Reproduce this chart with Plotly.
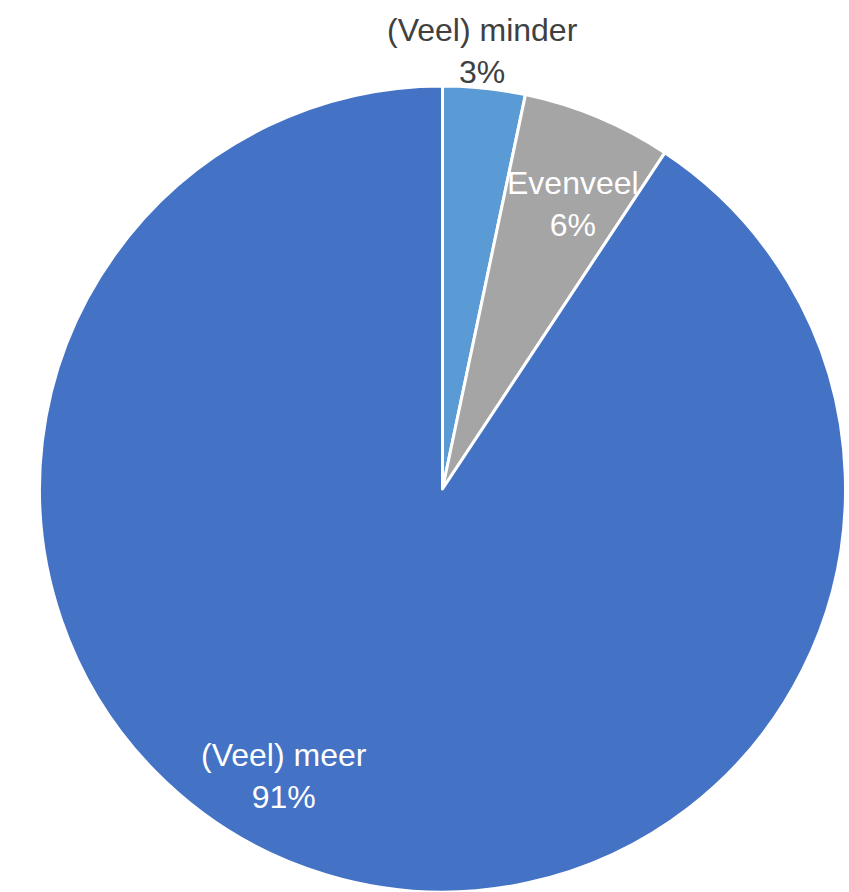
import plotly.graph_objects as go

categories = ["(Veel) minder", "Evenveel", "(Veel) meer"]
values = [3.3, 6.0, 90.7]
colors = ["#5B9BD5", "#A5A5A5", "#4472C4"]

W, H = 849, 892
# pie geometry in screen pixels (includes white outline)
left, right, top, bottom = 38.5, 846.5, 86, 892

fig = go.Figure(go.Pie(
    labels=categories,
    values=values,
    sort=False,
    direction="clockwise",
    rotation=0,
    marker=dict(colors=colors, line=dict(color="white", width=3)),
    textinfo="none",
    hoverinfo="label+percent",
    showlegend=False,
    domain=dict(x=[left / W, right / W],
                y=[1 - bottom / H, 1 - top / H]),
))

total = sum(values)
pcts = [f"{round(v / total * 100)}%" for v in values]

# label anchor positions (screen pixels) and colours
label_px = [(482, 51), (573, 204), (284, 776)]
label_colors = ["#404040", "white", "white"]

for cat, pct, (px, py), col in zip(categories, pcts, label_px, label_colors):
    fig.add_annotation(
        x=px / W, y=1 - py / H, xref="paper", yref="paper",
        text=f"{cat}<br>{pct}", showarrow=False,
        font=dict(family="Liberation Sans, Arial, sans-serif", size=32, color=col),
        xanchor="center", yanchor="middle", align="center",
    )

fig.update_layout(
    width=W, height=H,
    margin=dict(l=0, r=0, t=0, b=0),
    paper_bgcolor="white", plot_bgcolor="white",
)

fig.write_html(
    "out.html",
    config={"displayModeBar": False},
    post_script="document.body.style.margin='0';document.body.style.overflow='hidden';",
)
